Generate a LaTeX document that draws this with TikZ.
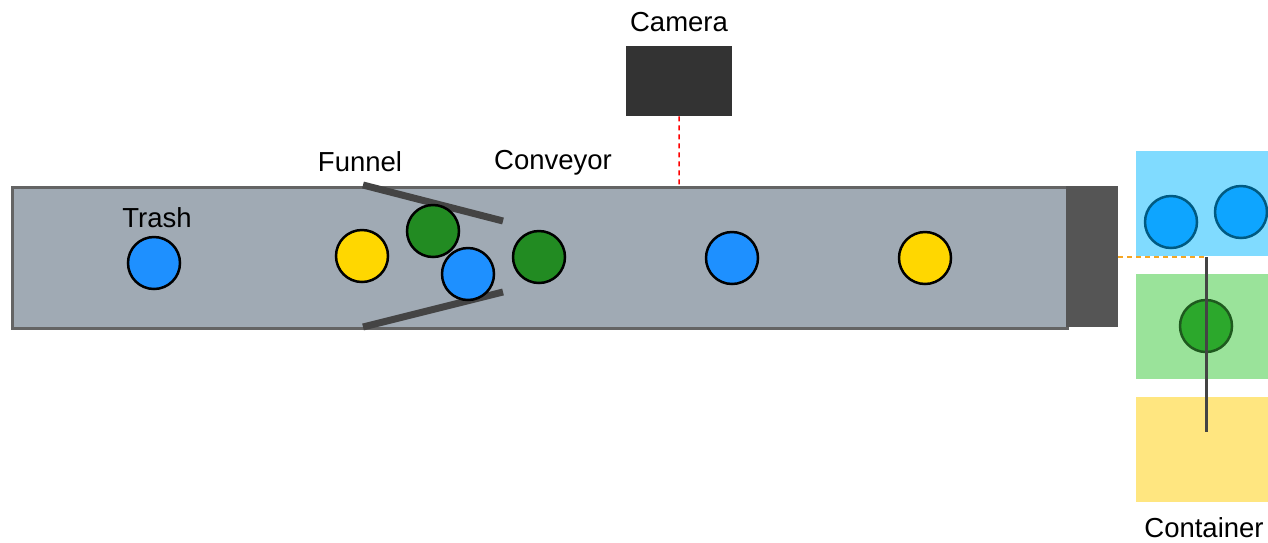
\documentclass[tikz,border=0pt]{standalone}
\usepackage{fontspec}
\setmainfont{Liberation Sans}
\begin{document}
\begin{tikzpicture}[x=1pt,y=-1pt,
  lbl/.style={font=\fontsize{27.5}{32}\selectfont, inner sep=0pt, anchor=center},
  ball/.style={circle, draw=black, line width=2.5pt, minimum size=52pt, inner sep=0pt},
  binball/.style={circle, line width=2.5pt, minimum size=52pt, inner sep=0pt},
  bar/.style={draw=barc, line width=7pt},
  bin/.style={inner sep=0pt, anchor=north west, minimum width=132pt, minimum height=105pt}]
\definecolor{belt}{HTML}{A0AAB4}
\definecolor{beltedge}{HTML}{646464}
\definecolor{endblk}{HTML}{555555}
\definecolor{cam}{HTML}{333333}
\definecolor{barc}{HTML}{444444}
\definecolor{tblue}{HTML}{1E90FF}
\definecolor{tyellow}{HTML}{FFD700}
\definecolor{tgreen}{HTML}{228B22}
\definecolor{binblue}{HTML}{80DBFF}
\definecolor{bingreen}{HTML}{9AE39A}
\definecolor{binyellow}{HTML}{FFE680}
\definecolor{bblue}{HTML}{0EA5FF}
\definecolor{bblueedge}{HTML}{005A82}
\definecolor{bgreen}{HTML}{2CA82C}
\definecolor{bgreenedge}{HTML}{1E5A1E}
\definecolor{orangeline}{HTML}{F5A623}
\useasboundingbox (0,0) rectangle (1268,542);
% conveyor
\node[draw=beltedge, fill=belt, line width=3pt, inner sep=0pt, anchor=north west,
  minimum width=1055pt, minimum height=141pt] (conv) at (11,186) {};
\node[fill=endblk, inner sep=0pt, anchor=north west, minimum width=52pt, minimum height=141pt] (endb) at (1066,186) {};
% camera
\node[fill=cam, inner sep=0pt, anchor=north west, minimum width=106pt, minimum height=70pt] (cam) at (626,46) {};
\coordinate (camhit) at (679,186);
\draw[red, dashed, line width=1.5pt, dash pattern=on 5pt off 4pt] (cam.south) -- (camhit);
% labels
\node[lbl] (lcam) at (679,22) {Camera};
\node[lbl] (ltrash) at (157,218) {Trash};
\node[lbl] (lfun) at (360,162) {Funnel};
\node[lbl] (lconv) at (553,163) {Conveyor};
\node[lbl] (lcont) at (1204,528) {Container};
% funnel
\coordinate (f1a) at (363,185); \coordinate (f1b) at (503,221);
\coordinate (f2a) at (363,327); \coordinate (f2b) at (503,292);
\draw[bar] (f1a) -- (f1b);
\draw[bar] (f2a) -- (f2b);
% balls
\node[ball, fill=tblue] (b1) at (154,263) {};
\node[ball, fill=tyellow] (b2) at (362,256) {};
\node[ball, fill=tgreen] (b3) at (433,231) {};
\node[ball, fill=tblue] (b4) at (468,274) {};
\node[ball, fill=tgreen] (b5) at (539,257) {};
\node[ball, fill=tblue] (b6) at (732,258) {};
\node[ball, fill=tyellow] (b7) at (925,258) {};
% bins
\node[bin, fill=binblue] (binb) at (1136,151) {};
\node[bin, fill=bingreen] (bing) at (1136,274) {};
\node[bin, fill=binyellow] (biny) at (1136,397) {};
\node[binball, fill=bblue, draw=bblueedge] (c1) at (1171,222) {};
\node[binball, fill=bblue, draw=bblueedge] (c2) at (1241,212) {};
\node[binball, fill=bgreen, draw=bgreenedge] (c3) at (1206,326) {};
% sorter
\coordinate (pivot) at (1206,257);
\coordinate (armend) at (1206,432);
\draw[orangeline, dashed, line width=1.5pt, dash pattern=on 5pt off 4pt] (endb.east |- pivot) -- (pivot);
\draw[barc, line width=3pt] (pivot) -- (armend);
\end{tikzpicture}
\end{document}
